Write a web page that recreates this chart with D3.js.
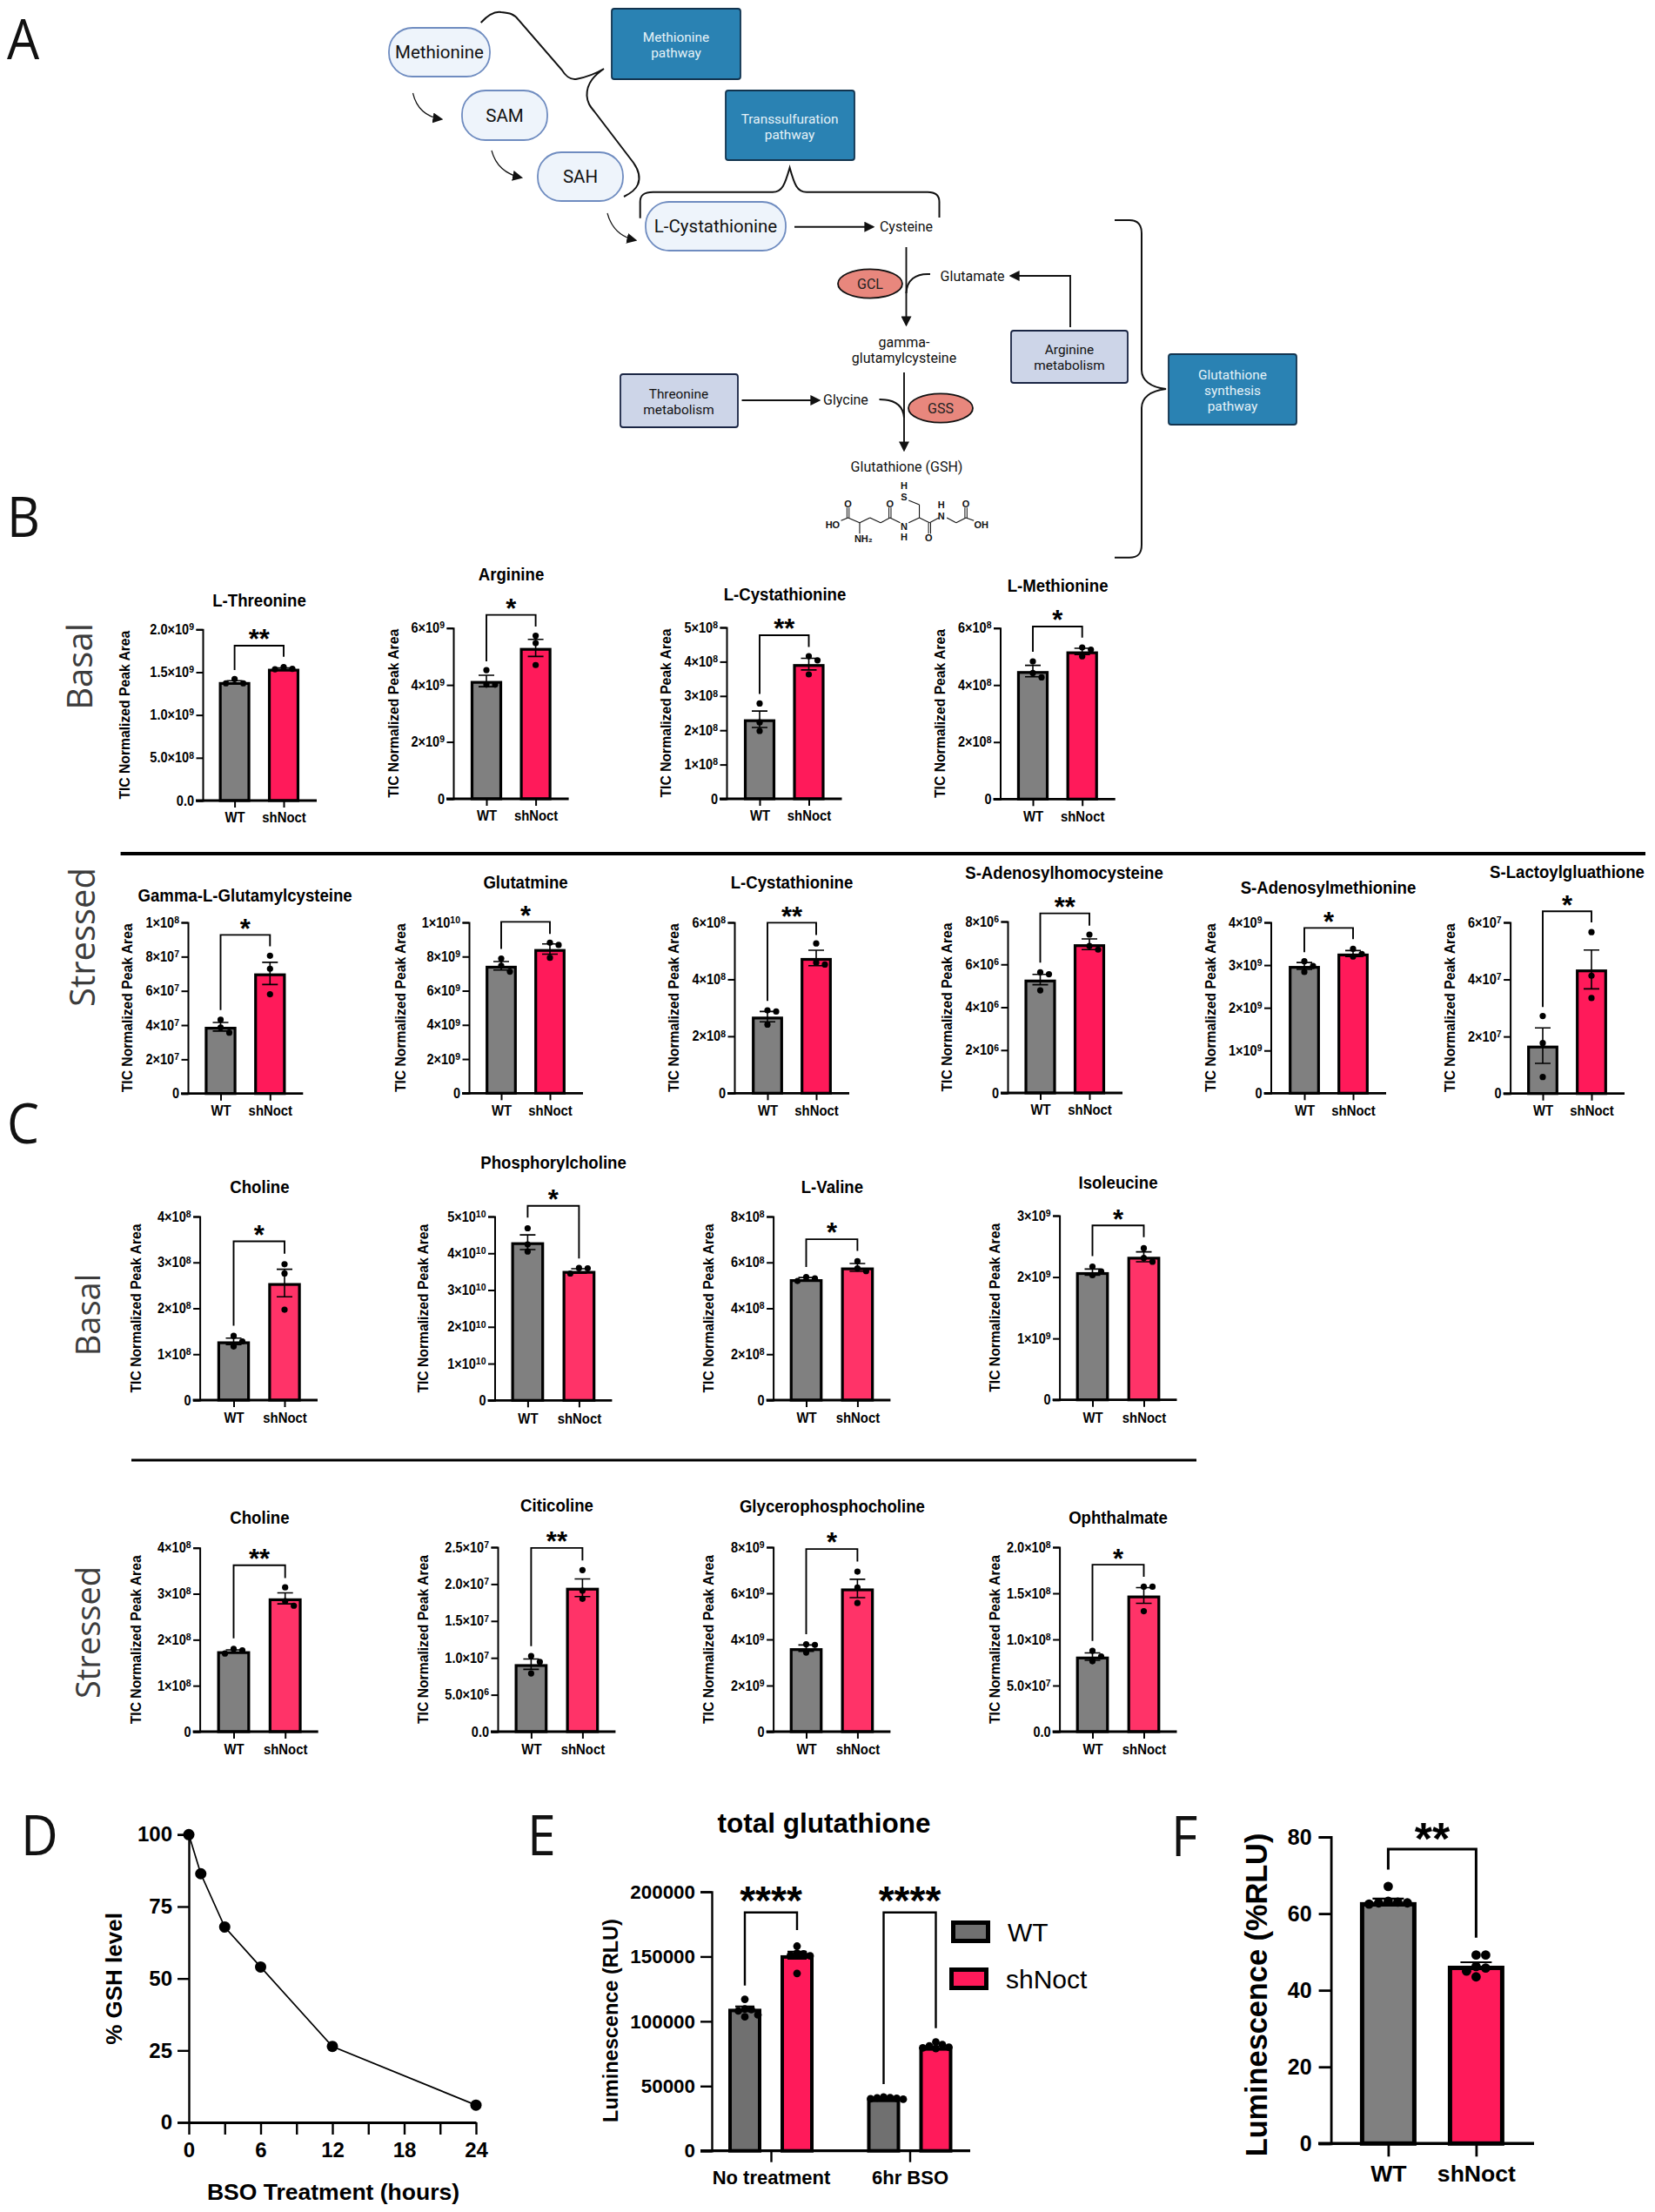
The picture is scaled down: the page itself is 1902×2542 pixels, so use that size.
<!DOCTYPE html>
<html><head><meta charset="utf-8">
<script src="https://cdnjs.cloudflare.com/ajax/libs/d3/7.8.5/d3.min.js"></script>
<style>
html,body{margin:0;padding:0;background:#fff;}
svg{display:block;}
text{font-family:"Liberation Sans",Arial,sans-serif;}
</style></head><body>
<svg id="c" width="1902" height="2542"></svg>
<script>
// ---------- metabolite panel data ----------
const groups = ["WT","shNoct"];
const panelTitles = ["L-Threonine","Arginine","L-Cystathionine","L-Methionine",
 "Gamma-L-Glutamylcysteine","Glutatmine","L-Cystathionine","S-Adenosylhomocysteine","S-Adenosylmethionine","S-Lactoylgluathione",
 "Choline","Phosphorylcholine","L-Valine","Isoleucine",
 "Choline","Citicoline","Glycerophosphocholine","Ophthalmate"];
const panelStars = ["**","*","**","*", "*","*","**","**","*","*", "*","*","*","*", "**","**","*","*"];
const wtMeans = [1.385e9,4.14e9,2.32e8,4.49e8, 3.9e7,7.46e9,2.69e8,5.29e6,2.98e9,1.68e7, 1.28e8,4.3e10,5.27e8,2.08e9, 1.75e8,9.15e6,3.62e9,8.14e7];
const shMeans = [1.54e9,5.3e9,3.93e8,5.18e8, 7.02e7,8.44e9,4.75e8,6.94e6,3.27e9,4.35e7, 2.55e8,3.52e10,5.78e8,2.33e9, 2.9e8,1.95e7,6.21e9,1.476e8];
const wtErrs = [0.015e9,0.2e9,0.24e8,0.2e8, 0.25e7,0.25e9,0.18e8,0.24e6,0.08e9,0.62e7, 0.07e8,0.2e10,0.07e8,0.05e9, 0.03e8,0.7e6,0.14e9,0.4e7];
const shErrs = [0.01e9,0.3e9,0.17e8,0.11e8, 0.65e7,0.3e9,0.27e8,0.25e6,0.07e9,0.68e7, 0.3e8,0.06e10,0.17e8,0.08e9, 0.12e8,1.2e6,0.4e9,0.85e7];
const wtPoints = [[1.42e9,1.37e9,1.37e9],[4.52e9,4.01e9,4.01e9],[2.78e8,2.23e8,1.98e8],[4.83e8,4.42e8,4.27e8],
 [4.32e7,3.86e7,3.56e7],[7.88e9,7.46e9,7.12e9],[2.91e8,2.87e8,2.41e8],[5.63e6,5.54e6,4.79e6],[3.09e9,2.98e9,2.84e9],[2.72e7,1.77e7,0.58e7],
 [1.4e8,1.28e8,1.17e8],[4.68e10,4.24e10,4.05e10],[5.36e8,5.3e8,5.19e8],[2.17e9,2.09e9,2.03e9],
 [1.8e8,1.77e8,1.7e8],[1.025e7,9.46e6,7.89e6],[3.79e9,3.76e9,3.43e9],[8.77e7,8.14e7,7.63e7]];
const shPoints = [[1.56e9,1.54e9,1.535e9],[5.73e9,5.47e9,4.7e9],[4.16e8,4.04e8,3.63e8],[5.32e8,5.24e8,5.01e8],
 [8.05e7,7.29e7,5.8e7],[8.81e9,8.68e9,7.93e9],[5.26e8,4.59e8,4.52e8],[7.39e6,6.86e6,6.69e6],[3.38e9,3.26e9,3.2e9],[5.66e7,4.13e7,3.35e7],
 [2.96e8,2.76e8,1.97e8],[3.6e10,3.59e10,3.45e10],[6.05e8,5.74e8,5.62e8],[2.47e9,2.31e9,2.25e9],
 [3.14e8,2.84e8,2.74e8],[2.19e7,1.91e7,1.8e7],[6.94e9,6.25e9,5.58e9],[1.571e8,1.571e8,1.306e8]];
const bracketTop = [1.81e9,6.46e9,4.77e8,6.05e8, 9.27e7,1.003e10,5.99e8,8.38e6,3.87e9,6.39e7, 3.46e8,5.29e10,7.01e8,2.84e9, 3.62e8,2.49e7,7.92e9,1.81e8];
const bracketLeft = [1.525e9,4.83e9,3.06e8,5.17e8, 4.88e7,8.44e9,3.24e8,6.08e6,3.3e9,3.03e7, 1.62e8,4.97e10,5.8e8,2.34e9, 2.03e8,1.16e7,4.23e9,9.84e7];
const bracketRight = [1.68e9,6.05e9,4.43e8,5.66e8, 8.6e7,9.32e9,5.56e8,7.81e6,3.61e9,6.0e7, 3.19e8,3.86e10,6.5e8,2.65e9, 3.34e8,2.32e7,7.38e9,1.68e8];
const panelTicks = [[0,5e8,1e9,1.5e9,2e9],[0,2e9,4e9,6e9],[0,1e8,2e8,3e8,4e8,5e8],[0,2e8,4e8,6e8],
 [0,2e7,4e7,6e7,8e7,1e8],[0,2e9,4e9,6e9,8e9,1e10],[0,2e8,4e8,6e8],[0,2e6,4e6,6e6,8e6],[0,1e9,2e9,3e9,4e9],[0,2e7,4e7,6e7],
 [0,1e8,2e8,3e8,4e8],[0,1e10,2e10,3e10,4e10,5e10],[0,2e8,4e8,6e8,8e8],[0,1e9,2e9,3e9],
 [0,1e8,2e8,3e8,4e8],[0,5e6,1e7,1.5e7,2e7,2.5e7],[0,2e9,4e9,6e9,8e9],[0,5e7,1e8,1.5e8,2e8]];
const decimalTicks = [true,false,false,false, false,false,false,false,false,false, false,false,false,false, false,true,false,true];

// ---------- panels D, E, F data ----------
const bsoHours = [0,1,3,6,12,24];
const gshLevel = [100,86.4,67.9,54,26.4,6];
const bsoTicks = [0,3,6,9,12,15,18,21,24];
const bsoLabelled = [0,6,12,18,24];
const gshTicks = [0,25,50,75,100];
const totalGroups = ["No treatment","6hr BSO"];
const totalMeans = [[109700,151000],[40300,80000]];
const totalErrs = [[1800,2800],[500,900]];
const totalPoints = [[[117000,109500,109000,108000,105000,103500],[158000,152500,152000,151000,150500,137000]],
                     [[41500,41000,40800,40500,40200,39800],[84000,82000,81000,80000,79500,79000]]];
const totalTicks = [0,50000,100000,150000,200000];
const totalBrackets = [[184000,127600,170400],[184000,51500,94700]];
const rluMeans = [63,46.4];
const rluErrs = [0.9,0.9];
const rluPoints = [[67.1,63.2,63,62.8,62.8,62.5],[49.2,49.2,46.2,45.8,45,43.5]];
const rluTicks = [0,20,40,60,80];
const rluBracket = [76.8,71.5,53.7];

// ---------- layout (pixels, separate from data) ----------
const L = (ax,top,base,wt,sh,labelX,titleX,titleY)=>({ax,top,base,wt,sh,labelX,titleX,titleY});
const panelLayout = [
 L(233,723.3,920,269.6,326,143,298,690), L(521,721.7,918,559,615.6,452,587.5,660), L(835,721,918,873,929.5,765,902,683), L(1149.5,721.7,918.3,1187,1243.7,1079.5,1215.6,673),
 L(216,1060,1256.7,253.5,310.3,146,281.6,1029), L(539,1060,1256.3,576,632,460,604,1013.7), L(844,1060,1256.3,882,938,773.5,910,1013.5), L(1158,1059,1256,1195.5,1252,1088,1223,1003), L(1460.5,1060,1256.3,1499,1555,1391,1526.5,1020), L(1735.6,1060,1256.7,1773,1829,1666,1801,1001.7),
 L(229.6,1398,1609,268.5,327,156,298.4,1363.7), L(568.5,1398,1609.3,606.4,665.4,485.5,636,1335.7), L(888.6,1398,1609,926.5,985.4,813.6,956.4,1363.7), L(1217.6,1397,1608.7,1255.5,1314.5,1143,1285,1359),
 L(229.6,1778.7,1990,268.5,327.7,156,298.4,1744.3), L(572,1778,1990,610.4,669.4,485.5,640,1730.3), L(888.6,1778,1990,926.5,985.4,813.6,956.4,1731), L(1217.6,1778,1990,1255.5,1314.5,1143,1285,1744)
];
const GRAY="#808080", PINK_B="#ff1a5a", PINK_C="#ff3368";
const svg = d3.select("#c");
const FONT='"Liberation Sans",Arial,sans-serif';
const SCHEM='Roboto,"Liberation Sans",sans-serif';

function swarm(vals,y,cx,diam,step){
  const placed=[];
  vals.slice().sort((a,b)=>b-a).forEach(v=>{
    const py=y(v); let k=0;
    for(const o of [0,1,-1,2,-2,3,-3]){
      if(!placed.some(p=>p.o===o && Math.abs(p.py-py)<diam)){k=o;break;}
    }
    placed.push({o:k,py,px:cx+k*step});
  });
  return placed;
}
function styleAxis(g,sw){g.selectAll("path,line").attr("stroke","#000").attr("stroke-width",sw);}
function bracket(g,x1,x2,yT,yL,yR,sw){
  g.append("path").attr("d",`M${x1},${yL}V${yT}H${x2}V${yR}`).attr("fill","none").attr("stroke","#000").attr("stroke-width",sw);
}
function stars(g,cx,cy,txt,fs){
  g.append("text").attr("x",cx).attr("y",cy+0.56*fs).attr("text-anchor","middle").attr("font-size",fs).attr("font-weight","700").attr("fill","#000").text(txt);
}
function sciTick(sel,dec){
  sel.each(function(d){
    const t=d3.select(this); const x0=+t.attr("x"); t.text(null);
    t.attr("x",0).attr("transform",`translate(${x0},0) scale(0.92,1)`);
    if(d===0){t.text(dec?"0.0":"0");return;}
    const e=Math.floor(Math.log10(d)+1e-9), m=d/Math.pow(10,e);
    t.append("tspan").text((dec?m.toFixed(1):d3.format(".0f")(m))+"×10");
    t.append("tspan").attr("dy","-0.42em").attr("font-size","0.72em").text(e);
  });
}

panelTitles.forEach((title,i)=>{
  const p=panelLayout[i], g=svg.append("g");
  const pink = i<10?PINK_B:PINK_C;
  const ticks=panelTicks[i];
  const y=d3.scaleLinear().domain([0,d3.max(ticks)]).range([p.base,p.top]);
  const x=d3.scalePoint().domain(groups).range([p.wt,p.sh]);
  const spacing=p.sh-p.wt, bw=spacing*0.64, sw=3.2;
  [wtMeans[i],shMeans[i]].forEach((m,k)=>{
    g.append("rect").attr("x",x(groups[k])-bw/2+sw/2).attr("y",y(m)+sw/2).attr("width",bw-sw).attr("height",y(0)-y(m)-sw/2)
     .attr("fill",k?pink:GRAY).attr("stroke","#000").attr("stroke-width",sw);
  });
  [[wtMeans[i],wtErrs[i],wtPoints[i]],[shMeans[i],shErrs[i],shPoints[i]]].forEach(([m,e,pts],k)=>{
    const cx=x(groups[k]);
    g.append("path").attr("d",`M${cx},${y(m-e)}V${y(m+e)}M${cx-9},${y(m-e)}H${cx+9}M${cx-9},${y(m+e)}H${cx+9}`)
      .attr("stroke","#000").attr("stroke-width",1.6).attr("fill","none");
    swarm(pts,y,cx,7,10).forEach(d=>g.append("circle").attr("cx",d.px).attr("cy",d.py).attr("r",3.6).attr("fill","#000"));
  });
  const ya=g.append("g").attr("transform",`translate(${p.ax},0)`)
    .call(d3.axisLeft(y).tickValues(ticks).tickSize(7.5).tickPadding(2.5).tickFormat(d=>d));
  styleAxis(ya,2);
  ya.selectAll("text").attr("font-family",FONT).attr("font-size",15.8).attr("font-weight","700").attr("fill","#000").call(sciTick,decimalTicks[i]);
  const xa=g.append("g").attr("transform",`translate(0,${p.base})`)
    .call(d3.axisBottom(x).tickSize(8).tickPadding(i>=10?7:6).tickSizeOuter(0));
  styleAxis(xa,2);
  xa.select(".domain").remove();
  xa.selectAll("text").attr("font-family",FONT).attr("font-size",16).attr("font-weight","700").attr("fill","#000").attr("transform","scale(0.93,1)");
  g.append("line").attr("x1",p.ax-8).attr("x2",p.sh+38).attr("y1",p.base).attr("y2",p.base).attr("stroke","#000").attr("stroke-width",2.8);
  g.append("text").attr("transform",`translate(${p.titleX},${p.titleY}) scale(0.95,1)`).attr("dy","0.36em").attr("text-anchor","middle")
    .attr("font-size",19.6).attr("font-weight","700").attr("fill","#000").text(title);
  g.append("text").attr("transform",`translate(${p.labelX},${(p.top+p.base)/2}) rotate(-90) scale(0.93,1)`).attr("dy","0.36em").attr("text-anchor","middle")
    .attr("font-size",16.9).attr("font-weight","700").attr("fill","#000").text("TIC Normalized Peak Area");
  const yT=y(bracketTop[i]);
  bracket(g,p.wt,p.sh,yT,y(bracketLeft[i]),y(bracketRight[i]),1.9);
  stars(g,(p.wt+p.sh)/2,yT-14,panelStars[i],31);
});

// separators
[[138.6,1891,981,4],[151,1375,1678,3]].forEach(([a,b,yy,w])=>svg.append("line").attr("x1",a).attr("x2",b).attr("y1",yy).attr("y2",yy).attr("stroke","#000").attr("stroke-width",w));

// panel letters and row labels
[["A",8,68],["B",8,617],["C",8,1314],["D",24,2132],["E",606,2132],["F",1346,2133]].forEach(([t,x,y])=>
  svg.append("text").attr("x",x).attr("y",y).attr("font-size",64).attr("font-weight","400").attr("fill","#111").attr("transform",`translate(${x},0) scale(0.92,1) translate(${-x},0)`).style("font-family",'"Open Sans",sans-serif').text(t));
[["Basal",106,766,40],["Stressed",109,1077,40],["Basal",115,1511,38],["Stressed",115,1876,38]].forEach(([t,x,y,s])=>
  svg.append("text").attr("transform",`translate(${x},${y}) rotate(-90)`).attr("text-anchor","middle").attr("font-size",s).attr("font-weight","400").attr("fill","#3c3c3c").style("font-family",'"Open Sans",sans-serif').text(t));

// ---------- Panel D ----------
(function(){
  const g=svg.append("g");
  const x=d3.scaleLinear().domain([0,24]).range([217,547]);
  const y=d3.scaleLinear().domain([0,100]).range([2439,2108.3]);
  const ya=g.append("g").attr("transform","translate(217,0)").call(d3.axisLeft(y).tickValues(gshTicks).tickSize(13).tickPadding(6));
  styleAxis(ya,2.4);
  ya.selectAll("text").attr("font-family",FONT).attr("font-size",24).attr("font-weight","700").attr("fill","#000");
  const xa=g.append("g").attr("transform","translate(0,2439)").call(d3.axisBottom(x).tickValues(bsoTicks).tickSize(14).tickPadding(9).tickSizeOuter(0)
     .tickFormat(d=>bsoLabelled.includes(d)?d:""));
  styleAxis(xa,2.4); xa.select(".domain").attr("stroke-width",3.2);
  xa.selectAll("text").attr("font-family",FONT).attr("font-size",24).attr("font-weight","700").attr("fill","#000");
  const line=d3.line().x((d,i)=>x(bsoHours[i])).y(d=>y(d));
  g.append("path").attr("d",line(gshLevel)).attr("fill","none").attr("stroke","#000").attr("stroke-width",1.7);
  gshLevel.forEach((v,i)=>g.append("circle").attr("cx",x(bsoHours[i])).attr("cy",y(v)).attr("r",6.5).attr("fill","#000"));
  g.append("text").attr("transform","translate(131,2274) rotate(-90)").attr("dy","0.36em").attr("text-anchor","middle").attr("font-size",26).attr("font-weight","700").text("% GSH level");
  g.append("text").attr("x",383).attr("y",2518).attr("dy","0.36em").attr("text-anchor","middle").attr("font-size",26.5).attr("font-weight","700").text("BSO Treatment (hours)");
})();

// ---------- Panel E ----------
(function(){
  const g=svg.append("g");
  const y=d3.scaleLinear().domain([0,200000]).range([2471.7,2174]);
  const xg=d3.scalePoint().domain(totalGroups).range([886,1045.5]);
  const xi=d3.scalePoint().domain(groups).range([-30,30]);
  const bw=38, sw=4;
  totalGroups.forEach((gn,a)=>groups.forEach((s,b)=>{
    const cx=xg(gn)+xi(s), m=totalMeans[a][b], e=totalErrs[a][b];
    g.append("rect").attr("x",cx-bw/2+sw/2).attr("y",y(m)+sw/2).attr("width",bw-sw).attr("height",y(0)-y(m)-sw/2).attr("fill",b?PINK_B:"#707070").attr("stroke","#000").attr("stroke-width",sw);
    g.append("path").attr("d",`M${cx},${y(m-e)}V${y(m+e)}M${cx-11},${y(m-e)}H${cx+11}M${cx-11},${y(m+e)}H${cx+11}`).attr("stroke","#000").attr("stroke-width",1.8);
    swarm(totalPoints[a][b],y,cx,7,7.5).forEach(d=>g.append("circle").attr("cx",d.px).attr("cy",d.py).attr("r",4.4).attr("fill","#000"));
  }));
  const ya=g.append("g").attr("transform","translate(818,0)").call(d3.axisLeft(y).tickValues(totalTicks).tickSize(13).tickPadding(6).tickFormat(d3.format("d")));
  styleAxis(ya,2.4);
  ya.selectAll("text").attr("font-family",FONT).attr("font-size",22.4).attr("font-weight","700").attr("fill","#000");
  const xa=g.append("g").attr("transform","translate(0,2471.7)").call(d3.axisBottom(xg).tickSize(13).tickPadding(10).tickSizeOuter(0));
  styleAxis(xa,2.4); xa.select(".domain").remove();
  xa.selectAll("text").attr("font-family",FONT).attr("font-size",22).attr("font-weight","700").attr("fill","#000");
  g.append("line").attr("x1",805).attr("x2",1115).attr("y1",2471.7).attr("y2",2471.7).attr("stroke","#000").attr("stroke-width",3.2);
  totalGroups.forEach((gn,a)=>{
    const [t,l,r]=totalBrackets[a];
    bracket(g,xg(gn)+xi("WT"),xg(gn)+xi("shNoct"),y(t),y(l),y(r),2.4);
    stars(g,xg(gn),2174,"****",46);
  });
  g.append("text").attr("x",947).attr("y",2095).attr("dy","0.36em").attr("text-anchor","middle").attr("font-size",31.5).attr("font-weight","700").text("total glutathione");
  g.append("text").attr("transform","translate(701.5,2322) rotate(-90)").attr("dy","0.36em").attr("text-anchor","middle").attr("font-size",23.5).attr("font-weight","700").text("Luminescence (RLU)");
  [[1093,2207,"#707070","WT",1158,2231],[1091,2261,PINK_B,"shNoct",1156,2285]].forEach(([x,yy,c,t,tx,ty])=>{
    g.append("rect").attr("x",x+2.5).attr("y",yy+2.5).attr("width",40).attr("height",21).attr("fill",c).attr("stroke","#000").attr("stroke-width",5);
    g.append("text").attr("x",tx).attr("y",ty).attr("font-size",30).attr("fill","#000").text(t);
  });
})();

// ---------- Panel F ----------
(function(){
  const g=svg.append("g");
  const y=d3.scaleLinear().domain([0,80]).range([2463.3,2111]);
  const x=d3.scalePoint().domain(groups).range([1595.4,1696.4]);
  const bw=65, sw=5;
  groups.forEach((s,k)=>{
    const cx=x(s), m=rluMeans[k], e=rluErrs[k];
    g.append("rect").attr("x",cx-bw/2+sw/2).attr("y",y(m)+sw/2).attr("width",bw-sw).attr("height",y(0)-y(m)-sw/2).attr("fill",k?PINK_B:GRAY).attr("stroke","#000").attr("stroke-width",sw);
    g.append("path").attr("d",`M${cx},${y(m-e)}V${y(m+e)}M${cx-18},${y(m-e)}H${cx+18}M${cx-18},${y(m+e)}H${cx+18}`).attr("stroke","#000").attr("stroke-width",2.2);
    swarm(rluPoints[k],y,cx,8,11).forEach(d=>g.append("circle").attr("cx",d.px).attr("cy",d.py).attr("r",5.4).attr("fill","#000"));
  });
  const ya=g.append("g").attr("transform","translate(1529.6,0)").call(d3.axisLeft(y).tickValues(rluTicks).tickSize(14).tickPadding(8));
  styleAxis(ya,2.8);
  ya.selectAll("text").attr("font-family",FONT).attr("font-size",25).attr("font-weight","700").attr("fill","#000");
  const xa=g.append("g").attr("transform","translate(0,2463.3)").call(d3.axisBottom(x).tickSize(15).tickPadding(10).tickSizeOuter(0));
  styleAxis(xa,2.8); xa.select(".domain").remove();
  xa.selectAll("text").attr("font-family",FONT).attr("font-size",26.6).attr("font-weight","700").attr("fill","#000");
  g.append("line").attr("x1",1515).attr("x2",1763).attr("y1",2463.3).attr("y2",2463.3).attr("stroke","#000").attr("stroke-width",3.6);
  bracket(g,x("WT"),x("shNoct"),y(rluBracket[0]),y(rluBracket[1]),y(rluBracket[2]),3);
  stars(g,1646,2101.7,"**",52);
  g.append("text").attr("transform","translate(1444,2292.5) rotate(-90)").attr("dy","0.36em").attr("text-anchor","middle").attr("font-size",34.3).attr("font-weight","700").text("Luminescence (%RLU)");
})();

// ---------- Panel A pathway schematic ----------
(function(){
  const g=svg.append("g").style("font-family",SCHEM);
  const T=(sel)=>sel.style("font-family",SCHEM);
  const defs=svg.append("defs");
  defs.append("marker").attr("id","ah").attr("viewBox","0 0 10 10").attr("refX",8).attr("refY",5).attr("markerWidth",12).attr("markerHeight",12).attr("markerUnits","userSpaceOnUse").attr("orient","auto")
    .append("path").attr("d","M0,0L10,5L0,10Z").attr("fill","#111");
  const pills=[[447,32,116,56,"Methionine"],[531,104,98,57,"SAM"],[618,175,98,56,"SAH"],[742,232,161,56,"L-Cystathionine"]];
  pills.forEach(([x,y,w,h,t])=>{
    g.append("rect").attr("x",x).attr("y",y).attr("width",w).attr("height",h).attr("rx",27).attr("fill","#eef4fb").attr("stroke","#6f8cc0").attr("stroke-width",1.8);
    T(g.append("text")).attr("x",x+w/2).attr("y",y+h/2).attr("dy","0.36em").attr("text-anchor","middle").attr("font-size",20.5).attr("fill","#111").text(t);
  });
  const box=(x,y,w,h,fill,stroke,color,lines,ys,cx)=>{
    g.append("rect").attr("x",x).attr("y",y).attr("width",w).attr("height",h).attr("rx",3).attr("fill",fill).attr("stroke",stroke).attr("stroke-width",1.8);
    lines.forEach((t,i)=>T(g.append("text")).attr("x",cx).attr("y",ys[i]).attr("dy","0.36em").attr("text-anchor","middle").attr("font-size",15.4).attr("fill",color).text(t));
  };
  box(703,10,148,81,"#2a82b3","#12344f","#e6f2f8",["Methionine","pathway"],[42,60],777);
  box(834,104,148,80,"#2a82b3","#12344f","#e6f2f8",["Transsulfuration","pathway"],[136,154],907.6);
  box(1343,407,147,81,"#2a82b3","#12344f","#e6f2f8",["Glutathione","synthesis","pathway"],[430,448,466],1416.5);
  box(1162,380,134,60,"#cdd5e8","#1a2544","#111",["Arginine","metabolism"],[401.7,419],1229);
  box(713,430,135,61,"#cdd5e8","#1a2544","#111",["Threonine","metabolism"],[452,470],780);
  [[1000,326,"GCL"],[1081,469,"GSS"]].forEach(([x,y,t])=>{
    g.append("ellipse").attr("cx",x).attr("cy",y).attr("rx",37).attr("ry",16.6).attr("fill","#e8877d").attr("stroke","#111").attr("stroke-width",1.8);
    T(g.append("text")).attr("x",x).attr("y",y).attr("dy","0.36em").attr("text-anchor","middle").attr("font-size",16).attr("fill","#222").text(t);
  });
  [["Cysteine",1041.5,260.7,"middle"],["Glutamate",1080.6,317,"start"],["gamma-",1039,393,"middle"],["glutamylcysteine",1039,411.7,"middle"],["Glycine",946,459,"start"],["Glutathione (GSH)",1042,536,"middle"]]
   .forEach(([t,x,y,a])=>T(g.append("text")).attr("x",x).attr("y",y).attr("dy","0.36em").attr("text-anchor",a).attr("font-size",16).attr("fill","#111").text(t));
  const arrow=(d,w=1.9)=>g.append("path").attr("d",d).attr("fill","none").attr("stroke","#111").attr("stroke-width",w).attr("marker-end","url(#ah)");
  arrow("M913,260.7H1003");
  arrow("M1041.5,284V373");
  arrow("M1230,376V317H1162");
  arrow("M852.5,460H941");
  arrow("M1039,428V517");
  arrow("M474.5,107C478,122 488,134 507,137",1.2);
  arrow("M565,173C569,188 580,200 598.7,204",1.2);
  arrow("M698,245C702,260 712,272 730,276",1.2);
  const stroke=(d,w=2)=>g.append("path").attr("d",d).attr("fill","none").attr("stroke","#111").attr("stroke-width",w);
  stroke("M1069,315C1052,314 1042,322 1041.5,337");
  stroke("M1010.5,459C1028,459 1038,466 1039,480");
  stroke("M552.7,26C562,16 570,13 576,14C586,15 591,16 596,23L645.5,80C651,89 656,92 663,90.7C672,89 684,85 694,79C684,86 674,95 674.5,110C675,118 678,122 683,128L728,187C735,197 736,205 733,212C731,217 725,222 717,226",2);
  stroke("M735.7,250.7V232C735.7,225 739,220.7 750.5,220.7H888C899,220.7 902,212 907.6,192.7C913,212 916,220.7 927,220.7H1066C1076,220.7 1079.5,225 1079.5,232V250",2);
  stroke("M1281,253H1298C1308,253 1312,258 1312,268V425C1312,437 1322,445 1340,447C1322,449 1312,457 1312,469V626C1312,636 1308,640.7 1298,640.7H1281",2);
  // glutathione structure
  const px=v=>680+v/1.867, py=v=>230+v/3;
  const bonds=[[535,1105,550,1095],[575,1112,550,1095],[575,1112,575,1150],[575,1112,597,1095],[597,1095,620,1112],[620,1112,640,1095],[640,1095,662,1112],[680,1112,703,1095],[703,1095,703,1050],[703,1050,680,1035],[703,1095,725,1112],[725,1112,745,1095],[762,1095,782,1112],[782,1112,803,1095],[803,1095,820,1105]];
  const dbl=[[550,1095,550,1060],[640,1095,640,1060],[725,1112,725,1150],[803,1095,803,1060]];
  bonds.forEach(b=>g.append("line").attr("x1",px(b[0])).attr("y1",py(b[1])).attr("x2",px(b[2])).attr("y2",py(b[3])).attr("stroke","#111").attr("stroke-width",1.1));
  dbl.forEach(b=>[-1.2,1.2].forEach(o=>g.append("line").attr("x1",px(b[0])+o).attr("y1",py(b[1])).attr("x2",px(b[2])+o).attr("y2",py(b[3])).attr("stroke","#111").attr("stroke-width",1)));
  [["O",550,1047],["O",640,1047],["H",670,985],["S",670,1022],["N",670,1125],["H",670,1162],["O",723,1163],["H",750,1050],["N",750,1088],["O",803,1047],["HO",517,1118],["NH₂",583,1167],["OH",836,1118]]
   .forEach(([t,x,y])=>g.append("text").attr("x",px(x)).attr("y",py(y)).attr("dy","0.36em").attr("text-anchor","middle").attr("font-size",11).attr("font-weight","700").attr("fill","#111").text(t));
})();
</script>
</body></html>
